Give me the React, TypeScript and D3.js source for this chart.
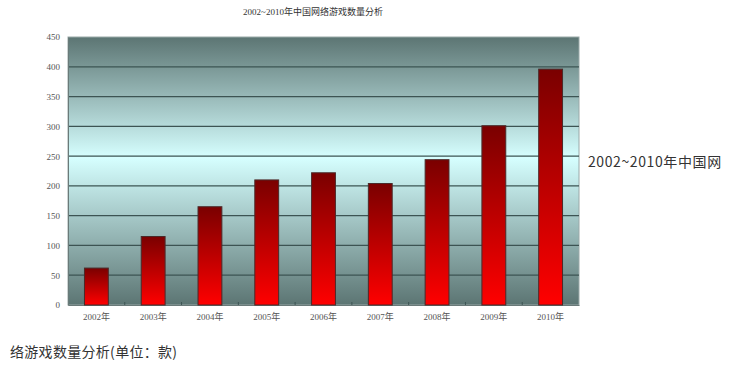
import { useRef, useEffect } from "react";
import * as d3 from "d3";

const years = ["2002年", "2003年", "2004年", "2005年", "2006年", "2007年", "2008年", "2009年", "2010年"];
const counts = [62, 115, 165, 210, 222, 204, 244, 301, 396];
const yTicks = [0, 50, 100, 150, 200, 250, 300, 350, 400, 450];

const App = () => {
  const svgRef = useRef<SVGSVGElement | null>(null);
  const width = 731;
  const height = 372;

  useEffect(() => {
    if (!svgRef.current) return;
    const svg = d3.select(svgRef.current);
    svg.selectAll("*").remove();

    const margin = { top: 37, right: 152, bottom: 67, left: 68 };
    const innerWidth = width - margin.left - margin.right;
    const innerHeight = height - margin.top - margin.bottom;

    const defs = svg.append("defs");
    const bg = defs
      .append("linearGradient")
      .attr("id", "bg")
      .attr("x1", 0).attr("y1", 0).attr("x2", 0).attr("y2", 1);
    bg.append("stop").attr("offset", "0%").attr("stop-color", "#5c7573");
    bg.append("stop").attr("offset", "45%").attr("stop-color", "#d6ffff");
    bg.append("stop").attr("offset", "100%").attr("stop-color", "#5c7573");

    const bar = defs
      .append("linearGradient")
      .attr("id", "bar")
      .attr("x1", 0).attr("y1", 0).attr("x2", 0).attr("y2", 1);
    bar.append("stop").attr("offset", "0%").attr("stop-color", "#7a0000");
    bar.append("stop").attr("offset", "100%").attr("stop-color", "#ff0000");

    const x = d3.scaleBand().domain(years).range([0, innerWidth]).paddingInner(0.58).paddingOuter(0.29);
    const y = d3.scaleLinear().domain([0, 450]).range([innerHeight, 0]);

    // title
    svg.append("text")
      .attr("x", 313)
      .attr("y", 15)
      .attr("text-anchor", "middle")
      .attr("font-family", "'Liberation Serif', 'Noto Sans CJK SC', serif")
      .attr("font-size", 9)
      .attr("fill", "#333")
      .text("2002~2010年中国网络游戏数量分析");

    const g = svg.append("g").attr("transform", `translate(${margin.left},${margin.top})`);

    g.append("rect")
      .attr("width", innerWidth)
      .attr("height", innerHeight)
      .attr("fill", "url(#bg)")
      .attr("stroke", "#9aa9a8");

    g.selectAll("line.grid")
      .data(yTicks.slice(1, -1))
      .enter()
      .append("line")
      .attr("class", "grid")
      .attr("x1", 0)
      .attr("x2", innerWidth)
      .attr("y1", (d) => y(d))
      .attr("y2", (d) => y(d))
      .attr("stroke", "#3d5453")
      .attr("stroke-width", 1.3);

    // y axis
    const yAxis = d3.axisLeft(y).tickValues(yTicks).tickSize(0).tickPadding(8);
    const ya = g.append("g").call(yAxis);
    ya.select(".domain").attr("stroke", "#6a7a79");
    ya.selectAll("text")
      .attr("font-family", "'Liberation Serif', serif")
      .attr("font-size", 9)
      .attr("fill", "#555");

    // x axis
    const xAxis = d3.axisBottom(x).tickSize(0).tickPadding(9);
    const xa = g.append("g").attr("transform", `translate(0,${innerHeight})`).call(xAxis);
    xa.select(".domain").attr("stroke", "#6a7a79");
    xa.selectAll("text")
      .attr("font-family", "'Liberation Serif', 'Noto Sans CJK SC', serif")
      .attr("font-size", 9)
      .attr("fill", "#555");

    const step = x.step();
    g.selectAll("line.xt")
      .data(years.slice(1))
      .enter()
      .append("line")
      .attr("class", "xt")
      .attr("x1", (d) => x(d)! - (step - x.bandwidth()) / 2)
      .attr("x2", (d) => x(d)! - (step - x.bandwidth()) / 2)
      .attr("y1", innerHeight - 3)
      .attr("y2", innerHeight)
      .attr("stroke", "#3d5453");

    g.selectAll("rect.bar")
      .data(counts)
      .enter()
      .append("rect")
      .attr("class", "bar")
      .attr("x", (_, i) => x(years[i])!)
      .attr("y", (d) => y(d))
      .attr("width", x.bandwidth())
      .attr("height", (d) => innerHeight - y(d))
      .attr("fill", "url(#bar)")
      .attr("stroke", "#4a2a2a")
      .attr("stroke-width", 1);

    // caption text flowing around the image
    const cap = "'Noto Sans CJK SC', 'Noto Sans', sans-serif";
    svg.append("text")
      .attr("x", 588)
      .attr("y", 167)
      .attr("font-family", cap)
      .attr("font-size", 14)
      .attr("letter-spacing", 0.6)
      .attr("fill", "#333")
      .text("2002~2010年中国网");
    svg.append("text")
      .attr("x", 10)
      .attr("y", 357)
      .attr("font-family", cap)
      .attr("font-size", 14)
      .attr("letter-spacing", 0.3)
      .attr("fill", "#333")
      .text("络游戏数量分析(单位：款)");
  }, []);

  return (
    <svg
      ref={svgRef}
      width={width}
      height={height}
      style={{ position: "absolute", left: 0, top: 0, background: "#fff" }}
    ></svg>
  );
};

export default App;
